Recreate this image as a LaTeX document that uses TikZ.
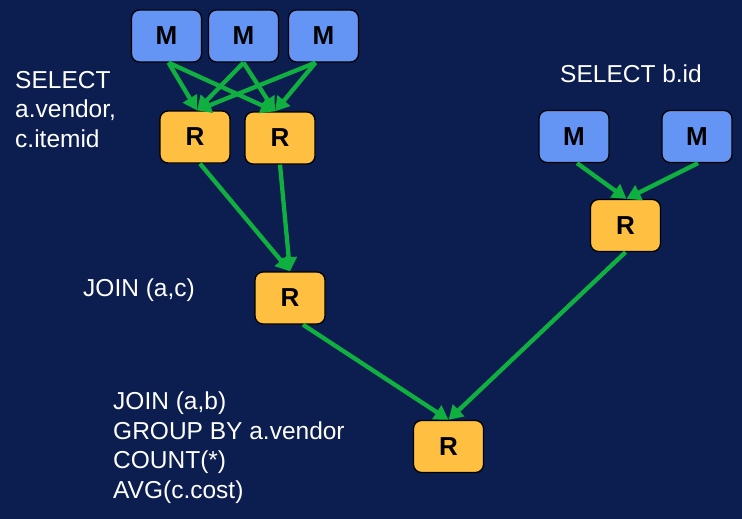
\documentclass[tikz,border=0pt]{standalone}
\usepackage{fontspec}
\setmainfont{Liberation Sans}
\usetikzlibrary{arrows.meta}
\definecolor{bgnavy}{HTML}{0C1E50}
\definecolor{mblue}{HTML}{6495F5}
\definecolor{rorange}{HTML}{FFBF40}
\definecolor{agreen}{HTML}{10B040}
\begin{document}
\begin{tikzpicture}[x=1pt,y=-1pt,
  box/.style={draw=black,line width=1.3pt,rounded corners=8pt,minimum width=70pt,minimum height=52pt,inner sep=0pt,font=\fontsize{26}{26}\selectfont\bfseries,text=black},
  mbox/.style={box,fill=mblue},
  rbox/.style={box,fill=rorange},
  flow/.style={draw=agreen,line width=4.3pt,-{Triangle[length=14pt,width=16pt]}},
  lbl/.style={text=white,font=\fontsize{24.5}{29.5}\selectfont,align=left,anchor=north west,inner sep=0pt}]
\fill[bgnavy] (0,0) rectangle (742,519);
\useasboundingbox (0,0) rectangle (742,519);
% map nodes
\node[mbox] (m1) at (166.5,36) {M};
\node[mbox] (m2) at (243.5,36) {M};
\node[mbox] (m3) at (323.5,36) {M};
\node[mbox] (m4) at (574,136.5) {M};
\node[mbox] (m5) at (697,136.5) {M};
% reduce nodes
\node[rbox] (r1) at (195,137) {R};
\node[rbox] (r2) at (280,138) {R};
\node[rbox] (r3) at (625.5,225.5) {R};
\node[rbox] (r4) at (290,298) {R};
\node[rbox] (r5) at (448.5,446.5) {R};
% labels
\node[lbl] (t1) at (15,71) {SELECT\\a.vendor,\\c.itemid};
\node[lbl] (t2) at (560,65) {SELECT b.id};
\node[lbl] (t3) at (83,279) {JOIN (a,c)};
\node[lbl] (t4) at (113,392) {JOIN (a,b)\\GROUP BY a.vendor\\COUNT(*)\\AVG(c.cost)};
% connectors
\draw[flow] ([xshift=2pt]m1.south) -- ([xshift=2pt]r1.north);
\draw[flow] ([xshift=2pt]m1.south) -- ([xshift=-5pt]r2.north);
\draw[flow] (m2.south) -- ([xshift=2pt]r1.north);
\draw[flow] (m2.south) -- ([xshift=-5pt]r2.north);
\draw[flow] ([xshift=-8pt]m3.south) -- ([xshift=2pt]r1.north);
\draw[flow] ([xshift=-8pt]m3.south) -- ([xshift=-5pt]r2.north);
\draw[flow] ([xshift=3pt]m4.south) -- ([xshift=1pt]r3.north);
\draw[flow] ([xshift=1pt]m5.south) -- ([xshift=1pt]r3.north);
\draw[flow] ([xshift=5pt]r1.south) -- (r4.north);
\draw[flow] (r2.south) -- (r4.north);
\draw[flow] ([xshift=13pt]r4.south) -- (r5.north);
\draw[flow] (r3.south) -- (r5.north);
\end{tikzpicture}
\end{document}
